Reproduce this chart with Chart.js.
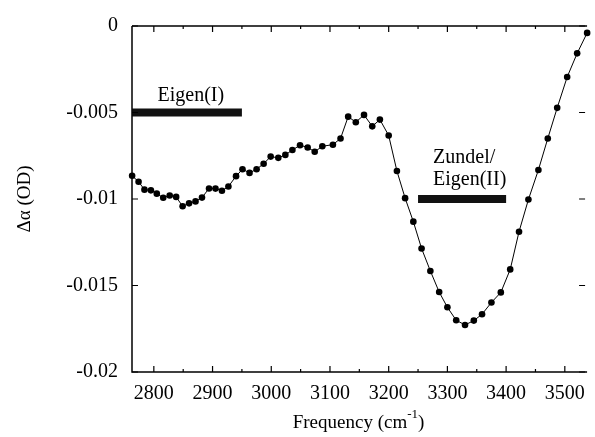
<!DOCTYPE html>
<html>
<head>
<meta charset="utf-8">
<script src="https://cdn.jsdelivr.net/npm/chart.js@4"></script>
<style>
  html, body { margin: 0; padding: 0; background: #fff; }
  canvas { display: block; }
</style>
</head>
<body>
<canvas id="spectrumChart" width="595" height="437"></canvas>
<script>
// frequency (cm^-1) and transient absorption change (OD)
const freq = [
  2763, 2774, 2784, 2795, 2805, 2816, 2827, 2838, 2849, 2860,
  2871, 2882, 2894, 2905, 2916, 2927, 2940, 2951, 2963, 2975,
  2987, 2999, 3012, 3024, 3036, 3049, 3062, 3074, 3087, 3105,
  3118, 3131, 3144, 3158, 3172, 3185, 3200, 3214, 3228, 3242,
  3256, 3271, 3286, 3300, 3315, 3330, 3345, 3359, 3375, 3391,
  3407, 3422, 3438, 3455, 3471, 3487, 3504, 3521, 3538
];
const dAlpha = [
  -0.00866, -0.0090, -0.00946, -0.0095, -0.00969, -0.00993, -0.0098, -0.00988, -0.01042, -0.01025,
  -0.01014, -0.00992, -0.00939, -0.0094, -0.00952, -0.00928, -0.00868, -0.00828, -0.00849, -0.00828,
  -0.00796, -0.00755, -0.00762, -0.00745, -0.00717, -0.00689, -0.00702, -0.00727, -0.00695, -0.00686,
  -0.0065, -0.00524, -0.00556, -0.00514, -0.0058, -0.00541, -0.00633, -0.00838, -0.00995, -0.01131,
  -0.01286, -0.01416, -0.01538, -0.01626, -0.01701, -0.01728, -0.01703, -0.01666, -0.01598, -0.0154,
  -0.01407, -0.01189, -0.01003, -0.00832, -0.0065, -0.00473, -0.00295, -0.00158, -0.0004
];

// band assignments (frequency span, level)
const eigenIRange = [2763, 2950];
const eigenILevel = -0.005;
const zundelRange = [3250, 3400];
const zundelLevel = -0.01;

const xTicks = [2800, 2900, 3000, 3100, 3200, 3300, 3400, 3500];
const xMinorTicks = [2850, 2950, 3050, 3150, 3250, 3350, 3450];
const yTicks = [0, -0.005, -0.01, -0.015, -0.02];
const yTickLabels = ["0", "-0.005", "-0.01", "-0.015", "-0.02"];

const FONT = "'Liberation Serif', 'Times New Roman', serif";

// frame, inward ticks, axis titles and band labels
const decorPlugin = {
  id: "decor",
  afterDraw(chart) {
    const ctx = chart.ctx;
    const a = chart.chartArea;
    const xs = chart.scales.x;
    const ys = chart.scales.y;
    ctx.save();
    ctx.strokeStyle = "#000";
    ctx.lineWidth = 1.5;
    ctx.beginPath();
    ctx.moveTo(a.left, a.top);
    ctx.lineTo(a.right + 2, a.top);
    ctx.moveTo(a.left, a.top);
    ctx.lineTo(a.left, a.bottom);
    ctx.lineTo(a.right + 2, a.bottom);
    ctx.stroke();

    ctx.lineWidth = 1.2;
    ctx.beginPath();
    xTicks.forEach(v => {
      const px = xs.getPixelForValue(v);
      ctx.moveTo(px, a.bottom); ctx.lineTo(px, a.bottom - 6);
      ctx.moveTo(px, a.top); ctx.lineTo(px, a.top + 6);
    });
    xMinorTicks.forEach(v => {
      const px = xs.getPixelForValue(v);
      ctx.moveTo(px, a.bottom); ctx.lineTo(px, a.bottom - 3);
      ctx.moveTo(px, a.top); ctx.lineTo(px, a.top + 3);
    });
    yTicks.forEach(v => {
      const py = ys.getPixelForValue(v);
      ctx.moveTo(a.left, py); ctx.lineTo(a.left + 6, py);
      ctx.moveTo(a.right, py); ctx.lineTo(a.right - 6, py);
    });
    ctx.stroke();

    ctx.fillStyle = "#000";
    // band labels
    ctx.font = "20px " + FONT;
    ctx.textBaseline = "middle";
    ctx.textAlign = "center";
    ctx.fillText("Eigen(I)", xs.getPixelForValue(2863), ys.getPixelForValue(eigenILevel) - 17);
    ctx.textAlign = "left";
    const zx = xs.getPixelForValue(zundelRange[0]) + 15;
    const zy = ys.getPixelForValue(zundelLevel);
    ctx.fillText("Zundel/", zx, zy - 41);
    ctx.fillText("Eigen(II)", zx, zy - 19);

    // x title with superscript
    const t1 = "Frequency (cm", sup = "-1", t2 = ")";
    ctx.font = "19px " + FONT;
    const w1 = ctx.measureText(t1).width, w3 = ctx.measureText(t2).width;
    ctx.font = "13px " + FONT;
    const w2 = ctx.measureText(sup).width;
    const cx = (a.left + a.right) / 2;
    const sx = cx - (w1 + w2 + w3) / 2;
    const ty = 423;
    ctx.textAlign = "left";
    ctx.font = "19px " + FONT;
    ctx.fillText(t1, sx, ty);
    ctx.font = "13px " + FONT;
    ctx.fillText(sup, sx + w1, ty - 8);
    ctx.font = "19px " + FONT;
    ctx.fillText(t2, sx + w1 + w2, ty);

    // y title
    ctx.translate(25, (a.top + a.bottom) / 2);
    ctx.rotate(-Math.PI / 2);
    ctx.textAlign = "center";
    ctx.fillText("\u0394\u03B1 (OD)", 0, 0);
    ctx.restore();
  }
};

new Chart(document.getElementById("spectrumChart"), {
  type: "line",
  data: {
    datasets: [
      {
        label: "spectrum",
        data: freq.map((f, i) => ({ x: f, y: dAlpha[i] })),
        borderColor: "#000",
        backgroundColor: "#000",
        borderWidth: 1,
        pointRadius: 3.3,
        pointBorderWidth: 0,
        tension: 0,
        fill: false,
        clip: false,
      },
      {
        label: "Eigen(I)",
        data: eigenIRange.map(f => ({ x: f, y: eigenILevel })),
        borderColor: "#111",
        borderWidth: 8,
        borderCapStyle: "butt",
        pointRadius: 0,
        fill: false,
        clip: false,
      },
      {
        label: "Zundel/Eigen(II)",
        data: zundelRange.map(f => ({ x: f, y: zundelLevel })),
        borderColor: "#111",
        borderWidth: 8,
        borderCapStyle: "butt",
        pointRadius: 0,
        fill: false,
      },
    ],
  },
  options: {
    responsive: false,
    animation: false,
    devicePixelRatio: 1,
    layout: { padding: { top: 17, right: 0, left: 0, bottom: 0 } },
    plugins: {
      legend: { display: false },
      tooltip: { enabled: false },
    },
    scales: {
      x: {
        type: "linear",
        min: 2762.8,
        max: 3534.5,
        afterBuildTicks: s => { s.ticks = xTicks.map(v => ({ value: v })); },
        afterFit: s => { s.height = 65; },
        grid: { display: false, drawTicks: false },
        border: { display: false },
        ticks: {
          color: "#000",
          padding: 10,
          maxRotation: 0,
          font: { family: FONT, size: 20 },
          callback: value => String(value),
        },
      },
      y: {
        type: "linear",
        min: -0.02,
        max: 0,
        afterBuildTicks: s => { s.ticks = yTicks.map(v => ({ value: v })); },
        afterFit: s => { s.width = 132; },
        grid: { display: false, drawTicks: false },
        border: { display: false },
        ticks: {
          color: "#000",
          padding: 14,
          font: { family: FONT, size: 20 },
          callback: value => {
            const i = yTicks.findIndex(t => Math.abs(t - value) < 1e-9);
            return i >= 0 ? yTickLabels[i] : "";
          },
        },
      },
    },
  },
  plugins: [decorPlugin],
});
</script>
</body>
</html>
